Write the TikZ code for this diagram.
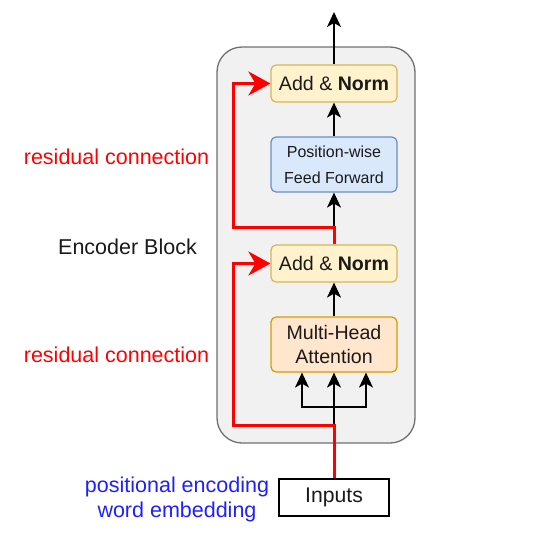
\documentclass[tikz,border=0pt]{standalone}
\usepackage{fontspec}
\setmainfont{Liberation Sans}
\usetikzlibrary{arrows.meta,calc}
\definecolor{blkfill}{HTML}{F1F1F1}
\definecolor{blkdraw}{HTML}{707070}
\definecolor{anfill}{HTML}{FFF2CC}
\definecolor{andraw}{HTML}{D6B656}
\definecolor{fffill}{HTML}{DAE8FC}
\definecolor{ffdraw}{HTML}{6C8EBF}
\definecolor{mhfill}{HTML}{FFE6CC}
\definecolor{mhdraw}{HTML}{D79B00}
\definecolor{resred}{HTML}{FF0000}
\definecolor{posblue}{HTML}{1F1FFF}
\definecolor{txt}{HTML}{1A1A1A}
\tikzset{
  box/.style={rectangle, rounded corners=5pt, line width=1.2pt, minimum width=126pt, inner sep=0pt, align=center, text=txt},
  anbox/.style={box, fill=anfill, draw=andraw, minimum height=37pt, font=\fontsize{19.6}{22}\selectfont},
  ffbox/.style={box, fill=fffill, draw=ffdraw, minimum height=55pt, font=\fontsize{16}{26}\selectfont},
  mhbox/.style={box, fill=mhfill, draw=mhdraw, minimum height=55pt, font=\fontsize{19.6}{24}\selectfont},
  blkarrow/.style={line width=1.3pt, draw=black, -{Stealth[length=15pt, width=14pt, inset=4pt]}},
  blkline/.style={line width=1.3pt, draw=black},
  resline/.style={line width=3pt, draw=resred, line join=miter},
  resarrow/.style={resline, -{Stealth[length=22pt, width=24pt, inset=7pt]}},
  lbl/.style={font=\fontsize{21.5}{25}\selectfont, inner sep=0pt, align=center}
}
\begin{document}
\begin{tikzpicture}[x=1pt, y=-1pt]
\useasboundingbox (0,0) rectangle (535,547);
% encoder block
\node[rectangle, rounded corners=25pt, fill=blkfill, draw=blkdraw, line width=1.3pt, minimum width=198pt, minimum height=396pt] (blk) at (316,245) {};
% boxes
\node[anbox] (an2) at (334,83.5) {Add \& \textbf{Norm}};
\node[ffbox] (ff) at (334,164.5) {Position-wise\\Feed Forward};
\node[anbox] (an1) at (334,263.5) {Add \& \textbf{Norm}};
\node[mhbox] (mha) at (334,344.5) {Multi-Head\\Attention};
\node[rectangle, draw=black, fill=white, line width=1.3pt, minimum width=110pt, minimum height=37pt, font=\fontsize{21.2}{24}\selectfont, text=txt] (inp) at (334,497.5) {Inputs};
% labels
\node[lbl, text=resred] (rc2) at (116.5,157) {residual connection};
\node[lbl, text=txt] (eb) at (127.5,247) {Encoder Block};
\node[lbl, text=resred] (rc1) at (116.5,355) {residual connection};
\node[lbl, text=posblue] (pe) at (177,499.5) {positional encoding\\word embedding};
% coordinates
\coordinate (outtop) at (334,12);
\coordinate (r2) at (334,227);
\coordinate (r2l) at (233,227);
\coordinate (r1) at (334,425);
\coordinate (r1l) at (233,425);
\coordinate (split) at (334,407);
% black connectors
\draw[blkarrow] (an2.north) -- (outtop);
\draw[blkarrow] (ff.north) -- (an2.south);
\draw[blkarrow] (r2) -- (ff.south);
\draw[blkarrow] (mha.north) -- (an1.south);
\draw[blkline] (r1) -- (split);
\draw[blkarrow] (split) -- (mha.south);
\draw[blkarrow] (split) -| ($(mha.south)+(-32,0)$);
\draw[blkarrow] (split) -| ($(mha.south)+(32,0)$);
% residual connectors
\draw[resarrow] (an1.north) -- (r2) -- (r2l) |- (an2.west);
\draw[resarrow] (inp.north) -- (r1) -- (r1l) |- (an1.west);
\end{tikzpicture}
\end{document}
